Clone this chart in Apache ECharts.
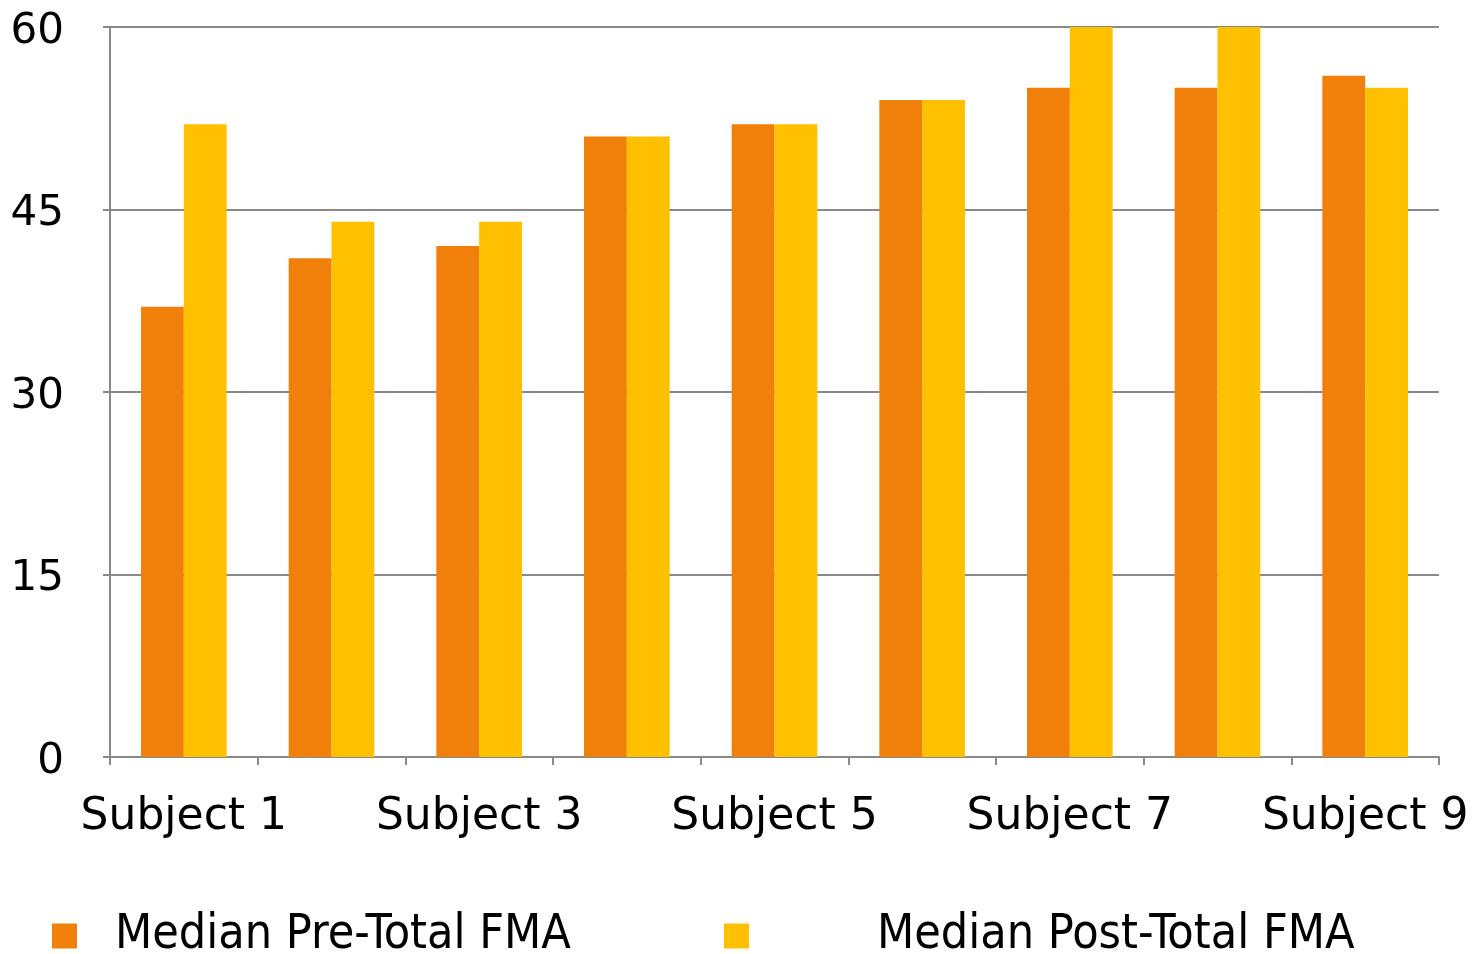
<!DOCTYPE html>
<html>
<head>
<meta charset="utf-8">
<script src="https://cdn.jsdelivr.net/npm/echarts@6/dist/echarts.min.js"></script>
<style>html,body{margin:0;padding:0;background:#fff;}#c{width:1473px;height:954px;}</style>
</head>
<body>
<div id="c"></div>
<script>
const categories = ['Subject 1','Subject 2','Subject 3','Subject 4','Subject 5','Subject 6','Subject 7','Subject 8','Subject 9'];
const preValues = [37, 41, 42, 51, 52, 54, 55, 55, 56];
const postValues = [52, 44, 44, 51, 52, 54, 60, 60, 55];
const seriesNames = ['Median Pre-Total FMA', 'Median Post-Total FMA'];
const yTicks = [0, 15, 30, 45, 60];

const chart = echarts.init(document.getElementById('c'));
const font = 'DejaVu Sans';
const grey = '#898989';
chart.setOption({
  animation: false,
  color: ['#F0800A', '#FFC000'],
  grid: { left: 110, right: 34, top: 27, bottom: 197, containLabel: false },
  legend: [
    { data: [seriesNames[0]], left: 52, top: 912, padding: 0, itemWidth: 25, itemHeight: 25, icon: 'rect',
      textStyle: { fontFamily: 'DejaVu Sans Condensed', fontSize: 48, color: '#000', padding: [0,0,0,33] } },
    { data: [seriesNames[1]], left: 724, top: 912, padding: 0, itemWidth: 25, itemHeight: 25, icon: 'rect',
      textStyle: { fontFamily: 'DejaVu Sans Condensed', fontSize: 48, color: '#000', padding: [0,0,0,123] } }
  ],
  xAxis: {
    type: 'category', data: categories,
    axisLine: { lineStyle: { color: grey, width: 2 } },
    axisTick: { show: true, interval: 0, length: 8, lineStyle: { color: grey, width: 2 } },
    axisLabel: { interval: 1, color: '#000', fontFamily: font, fontSize: 44, margin: 39 }
  },
  yAxis: {
    type: 'value', min: yTicks[0], max: yTicks[yTicks.length-1], interval: 15,
    axisLine: { show: true, lineStyle: { color: grey, width: 2 } },
    axisTick: { show: true, length: 7, lineStyle: { color: grey, width: 2 } },
    axisLabel: { color: '#000', fontFamily: font, fontSize: 42, margin: 46,
      formatter: '{a|{value}}',
      rich: { a: { fontFamily: font, fontSize: 42, color: '#000', padding: [10,0,0,0] } } },
    splitLine: { lineStyle: { color: grey, width: 2 } }
  },
  series: [
    { name: seriesNames[0], type: 'bar', data: preValues, barGap: '0%', barCategoryGap: '42%' },
    { name: seriesNames[1], type: 'bar', data: postValues, barGap: '0%', barCategoryGap: '42%' }
  ]
});
</script>
</body>
</html>
